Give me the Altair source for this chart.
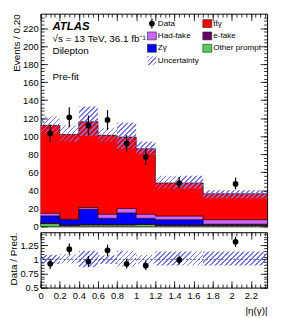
import math
import altair as alt
import numpy as np
import pandas as pd

# ---------------- data ----------------
edges = [0.0, 0.2, 0.4, 0.6, 0.8, 1.0, 1.2, 1.7, 2.37]
data_x = [0.1, 0.3, 0.5, 0.7, 0.9, 1.1, 1.45, 2.04]
data_y = [103, 121, 112, 118, 92, 77, 48, 47]
data_lo = [93, 110, 101, 107, 83, 68, 42, 41]
data_hi = [113, 132, 123, 129, 101, 86, 55, 54]

other_prompt = [3.0, 1.0, 1.5, 1.5, 1.5, 2.0, 1.0, 1.0]
e_fake = [0.4, 0.3, 0.3, 0.3, 0.3, 0.3, 0.3, 0.3]
z_gamma = [8.0, 6.0, 17.0, 7.0, 13.0, 6.5, 6.0, 1.0]
had_fake = [3.0, 0.5, 2.0, 4.5, 5.0, 4.5, 4.0, 5.0]
tt_gamma = [97.6, 94.2, 95.2, 87.7, 79.2, 72.7, 36.7, 28.7]

unc_lo = [103, 94, 100, 94, 86, 80, 42, 31]
unc_hi = [122, 112, 133, 109, 115, 94, 56, 40]

ratio = [0.92, 1.18, 0.96, 1.16, 0.92, 0.89, 0.99, 1.31]
ratio_lo = [0.83, 1.08, 0.87, 1.06, 0.84, 0.81, 0.91, 1.22]
ratio_hi = [1.01, 1.28, 1.06, 1.26, 1.01, 0.98, 1.07, 1.40]
rband_lo = [0.92, 0.93, 0.86, 0.92, 0.87, 0.92, 0.89, 0.89]
rband_hi = [1.08, 1.09, 1.15, 1.07, 1.15, 1.08, 1.14, 1.14]

comp_names = ["Other prompt", "e-fake", "Zγ", "Had-fake", "tt̄γ"]
comp_colors = ["#55cc55", "#660066", "#0000ff", "#cc66ff", "#ff0000"]
comp_values = [other_prompt, e_fake, z_gamma, had_fake, tt_gamma]

y_major = [0, 20, 40, 60, 80, 100, 120, 140, 160, 180, 200, 220]
x_major = [0, 0.2, 0.4, 0.6, 0.8, 1.0, 1.2, 1.4, 1.6, 1.8, 2.0, 2.2]
r_major = [0.5, 0.75, 1.0, 1.25]

legend_labels = ["Data", "tt̄γ", "Had-fake", "e-fake", "Zγ", "Other prompt", "Uncertainty"]

# ---------------- layout / style ----------------
W, H, HR = 229, 215, 56
XMAX, YMAX = 2.37, 236
RMIN, RMAX = 0.5, 1.48
FONT = "Liberation Sans"
HATCH = "#7474f4"

xsc = alt.Scale(domain=[0, XMAX], nice=False, zero=False)
ysc = alt.Scale(domain=[0, YMAX], nice=False, zero=False)
rsc = alt.Scale(domain=[RMIN, RMAX], nice=False, zero=False)

y_minor = [float(v) for v in np.round(np.arange(0, YMAX, 4.0), 3)]
x_minor = [float(v) for v in np.round(np.arange(0, XMAX, 0.05), 3)]
r_minor = [float(v) for v in np.round(np.arange(0.5, RMAX, 0.05), 3)]


def hatch_fill(w, h, period=3.6, frac=0.33, color=HATCH):
    L = (w + h) / math.sqrt(2)
    s = (1 / h + 1 / w) / (1 / h ** 2 + 1 / w ** 2)
    step = period / L
    clear = "rgba(255,255,255,0)"
    stops = []
    k = 0
    while k * step < 1:
        a = k * step
        b = min((k + frac) * step, 1)
        c = min((k + 1) * step, 1)
        stops += [
            alt.GradientStop(color=color, offset=a),
            alt.GradientStop(color=color, offset=b),
            alt.GradientStop(color=clear, offset=b),
            alt.GradientStop(color=clear, offset=c),
        ]
        k += 1
    return alt.LinearGradient(gradient="linear", stops=stops, x1=0, y1=0, x2=s / h, y2=s / w)


dummy = pd.DataFrame({"x": [1.0], "y": [1.0]})
LABEL_EXPR = "'' + datum.value"


def axis_layers(ys, ymaj, ymin, ylabel_axis, xlabel_axis):
    base = alt.Chart(dummy).mark_point(opacity=0)
    out = [base.encode(x=alt.X("x:Q", scale=xsc, axis=xlabel_axis),
                       y=alt.Y("y:Q", scale=ys, axis=ylabel_axis))]
    for ox, oy, size, xv, yv in [("bottom", "left", 7, x_major, ymaj),
                                 ("bottom", "left", 3.5, x_minor, ymin),
                                 ("top", "right", 7, x_major, ymaj),
                                 ("top", "right", 3.5, x_minor, ymin)]:
        common = dict(labels=False, domain=False, tickSize=size, offset=-size,
                      title=None, grid=False, tickColor="black", tickWidth=0.8)
        out.append(base.encode(
            x=alt.X("x:Q", scale=xsc, axis=alt.Axis(orient=ox, values=xv, **common)),
            y=alt.Y("y:Q", scale=ys, axis=alt.Axis(orient=oy, values=yv, **common)),
        ))
    return out


# ---------------- main panel ----------------
vals = np.array(comp_values)
cum_top = np.cumsum(vals, axis=0)
cum_bot = cum_top - vals
nb = len(data_x)

area_rows = []
for c, name in enumerate(comp_names):
    for i in range(len(edges)):
        j = min(i, nb - 1)
        area_rows.append(dict(comp=name, x=edges[i], y0=cum_bot[c, j], y1=cum_top[c, j]))
area_df = pd.DataFrame(area_rows)

stack = alt.Chart(area_df).mark_area(interpolate="step-after", strokeWidth=0).encode(
    x=alt.X("x:Q", scale=xsc, axis=None),
    y=alt.Y("y1:Q", scale=ysc, axis=None, stack=None), y2="y0:Q",
    fill=alt.Fill("comp:N", scale=alt.Scale(domain=comp_names, range=comp_colors), legend=None),
    detail="comp:N",
)
steps = alt.Chart(area_df).mark_line(interpolate="step-after", color="#2a0000", strokeWidth=0.8).encode(
    x=alt.X("x:Q", scale=xsc, axis=None), y=alt.Y("y1:Q", scale=ysc, axis=None), detail="comp:N")

band_layers = []
for i in range(nb):
    w = (edges[i + 1] - edges[i]) / XMAX * W
    h = (unc_hi[i] - unc_lo[i]) / YMAX * H
    bdf = pd.DataFrame({"lo": [edges[i]], "hi": [edges[i + 1]], "a": [unc_lo[i]], "b": [unc_hi[i]]})
    band_layers.append(alt.Chart(bdf).mark_rect(fill=hatch_fill(w, h), strokeWidth=0).encode(
        x=alt.X("lo:Q", scale=xsc, axis=None), x2="hi:Q",
        y=alt.Y("a:Q", scale=ysc, axis=None), y2="b:Q"))

pts_df = pd.DataFrame({"x": data_x, "y": data_y, "lo": data_lo, "hi": data_hi})
err = alt.Chart(pts_df).mark_rule(color="black", strokeWidth=1.2).encode(
    x=alt.X("x:Q", scale=xsc, axis=None), y=alt.Y("lo:Q", scale=ysc, axis=None), y2="hi:Q")
pts = alt.Chart(pts_df).mark_circle(size=34, color="black", opacity=1).encode(
    x=alt.X("x:Q", scale=xsc, axis=None), y=alt.Y("y:Q", scale=ysc, axis=None))


def label(text, x, y, size=10, weight="normal", style="normal"):
    return alt.Chart(dummy).mark_text(align="left", baseline="middle", font=FONT, fontSize=size,
                                      fontWeight=weight, fontStyle=style, color="black").encode(
        x=alt.value(x), y=alt.value(y), text=alt.value(text))


texts = [
    label("ATLAS", 12, 13, size=11.5, weight="bold", style="italic"),
    label("√s = 13 TeV, 36.1  fb⁻¹", 12, 25.5),
    label("Dilepton", 12, 38),
    label("Pre-fit", 12, 64.5),
]

# legend
col_x = [108, 164]
row_y = [10, 22.5, 35, 47.5]
leg_pos = [(0, 0), (1, 0), (0, 1), (1, 1), (0, 2), (1, 2), (0, 3)]
leg_color = {"tt̄γ": "#ff0000", "Had-fake": "#cc66ff", "e-fake": "#660066",
             "Zγ": "#0000ff", "Other prompt": "#55cc55"}
box_rows, txt_rows = [], []
for lab, (ci, ri) in zip(legend_labels, leg_pos):
    x0, yc = col_x[ci], row_y[ri]
    txt_rows.append(dict(t=lab, x=x0 + 10.5, y=yc))
    if lab in leg_color:
        box_rows.append(dict(x0=x0, x1=x0 + 9, y0=yc - 4, y1=yc + 4, c=leg_color[lab]))
box_df = pd.DataFrame(box_rows)
txt_df = pd.DataFrame(txt_rows)
leg_boxes = alt.Chart(box_df).mark_rect(stroke="#222222", strokeWidth=0.6).encode(
    x=alt.X("x0:Q", scale=None, axis=None), x2="x1:Q",
    y=alt.Y("y0:Q", scale=None, axis=None), y2="y1:Q",
    fill=alt.Fill("c:N", scale=None))
leg_text = alt.Chart(txt_df).mark_text(align="left", baseline="middle", font=FONT, fontSize=8.2,
                                       color="black").encode(
    x=alt.X("x:Q", scale=None, axis=None), y=alt.Y("y:Q", scale=None, axis=None), text="t:N")
ux, uy = col_x[0], row_y[3]
unc_box_df = pd.DataFrame({"x0": [ux], "x1": [ux + 9], "y0": [uy - 4.5], "y1": [uy + 4.5]})
leg_unc = alt.Chart(unc_box_df).mark_rect(fill=hatch_fill(9, 9, period=3.2), strokeWidth=0).encode(
    x=alt.X("x0:Q", scale=None, axis=None), x2="x1:Q",
    y=alt.Y("y0:Q", scale=None, axis=None), y2="y1:Q")
dx, dy = col_x[0] + 4.5, row_y[0]
dot_df = pd.DataFrame({"x": [dx], "y": [dy], "a": [dy - 5], "b": [dy + 5]})
leg_dot_bar = alt.Chart(dot_df).mark_rule(color="black", strokeWidth=1.2).encode(
    x=alt.X("x:Q", scale=None, axis=None), y=alt.Y("a:Q", scale=None, axis=None), y2="b:Q")
leg_dot = alt.Chart(dot_df).mark_circle(size=34, color="black", opacity=1).encode(
    x=alt.X("x:Q", scale=None, axis=None), y=alt.Y("y:Q", scale=None, axis=None))

main_ylabels = alt.Axis(values=y_major, labelExpr=LABEL_EXPR, ticks=False, domain=False, grid=False,
                        labelPadding=2.5, labelFont=FONT, labelFontSize=9.5, labelColor="black",
                        title="Events / 0.20", titleFont=FONT, titleFontSize=10,
                        titleFontWeight="normal", titleAnchor="end", titlePadding=1,
                        titleColor="black")

main = alt.layer(
    stack, steps, *band_layers, err, pts, *texts,
    leg_boxes, leg_unc, leg_dot_bar, leg_dot, leg_text,
    *axis_layers(ysc, y_major, y_minor, main_ylabels, None),
).resolve_axis(x="independent", y="independent").properties(width=W, height=H)

# ---------------- ratio panel ----------------
rband_layers = []
for i in range(nb):
    w = (edges[i + 1] - edges[i]) / XMAX * W
    h = (rband_hi[i] - rband_lo[i]) / (RMAX - RMIN) * HR
    bdf = pd.DataFrame({"lo": [edges[i]], "hi": [edges[i + 1]], "a": [rband_lo[i]], "b": [rband_hi[i]]})
    rband_layers.append(alt.Chart(bdf).mark_rect(fill=hatch_fill(w, h), strokeWidth=0).encode(
        x=alt.X("lo:Q", scale=xsc, axis=None), x2="hi:Q",
        y=alt.Y("a:Q", scale=rsc, axis=None), y2="b:Q"))

one_line = alt.Chart(dummy).mark_rule(color="#555555", strokeDash=[2, 2], strokeWidth=1).encode(
    y=alt.Y(datum=1, scale=rsc, axis=None))

r_df = pd.DataFrame({"x": data_x, "y": ratio, "lo": ratio_lo, "hi": ratio_hi})
r_err = alt.Chart(r_df).mark_rule(color="black", strokeWidth=1.2).encode(
    x=alt.X("x:Q", scale=xsc, axis=None), y=alt.Y("lo:Q", scale=rsc, axis=None), y2="hi:Q")
r_pts = alt.Chart(r_df).mark_circle(size=34, color="black", opacity=1).encode(
    x=alt.X("x:Q", scale=xsc, axis=None), y=alt.Y("y:Q", scale=rsc, axis=None))

r_ylabels = alt.Axis(values=r_major, labelExpr=LABEL_EXPR, ticks=False, domain=False, grid=False,
                     labelPadding=2.5, labelFont=FONT, labelFontSize=9.5, labelColor="black",
                     title="Data / Pred.", titleFont=FONT, titleFontSize=10,
                     titleFontWeight="normal", titleAnchor="end", titlePadding=1,
                     titleColor="black")
r_xlabels = alt.Axis(values=x_major, labelExpr=LABEL_EXPR, ticks=False, domain=False, grid=False,
                     labelPadding=3, labelFont=FONT, labelFontSize=9.5, labelColor="black",
                     labelFlush=False,
                     title="|η(γ)|", titleFont=FONT, titleFontSize=10, titleFontWeight="normal",
                     titleAnchor="end", titlePadding=6, titleColor="black")

ratio_panel = alt.layer(
    *rband_layers, one_line, r_err, r_pts,
    *axis_layers(rsc, r_major, r_minor, r_ylabels, r_xlabels),
).resolve_axis(x="independent", y="independent").properties(width=W, height=HR)

chart = alt.vconcat(main, ratio_panel, spacing=0).configure_view(
    stroke="black", strokeWidth=1
).properties(padding={"top": 3, "left": 0, "right": 5, "bottom": 0})

chart.save("out.html", embed_options={"renderer": "svg", "actions": False})
